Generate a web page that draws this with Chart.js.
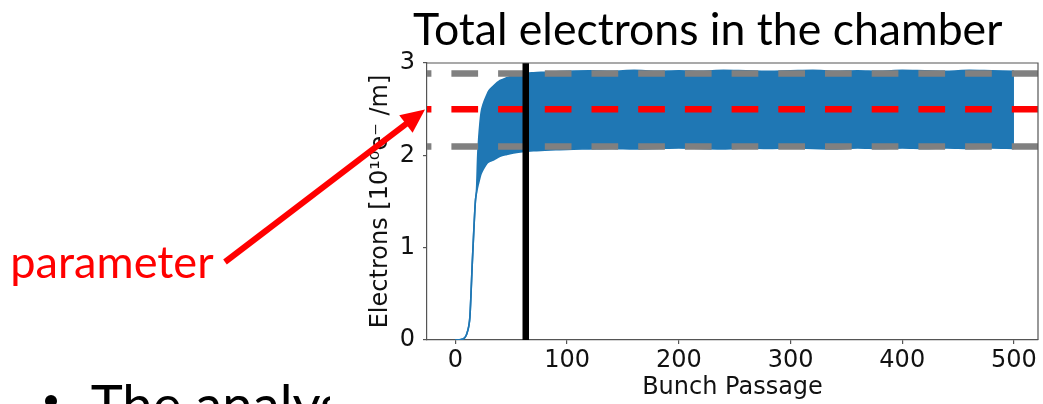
<!DOCTYPE html>
<html>
<head>
<meta charset="utf-8">
<script src="https://cdn.jsdelivr.net/npm/chart.js@4.4.1/dist/chart.umd.min.js"></script>
<style>
  html, body { margin: 0; padding: 0; background: #fff; overflow: hidden; }
  #wrap { position: relative; width: 1043px; height: 404px; }
</style>
</head>
<body>
<div id="wrap"><canvas id="c" width="1043" height="404"></canvas></div>
<script>
// Bunch passage at which the envelope of the oscillating electron count is sampled
const passage = [0, 5, 8, 10, 12, 13, 14, 15, 16.4, 17.9,
  19, 20, 21, 22, 23, 25, 28, 30, 34, 40,
  46, 52, 60, 70, 80, 90, 100, 120, 140, 160,
  180, 200, 220, 240, 260, 280, 300, 320, 340, 360,
  380, 400, 420, 440, 460, 480, 500];
// Upper and lower envelope of the electron count [10^10 e-/m]
const upperEnvelope = [0, 0.005, 0.02, 0.06, 0.15, 0.25, 0.5, 0.8, 1.16, 1.5,
  1.64, 2.0, 2.2, 2.35, 2.46, 2.56, 2.65, 2.70, 2.75, 2.81,
  2.84, 2.865, 2.885, 2.895, 2.90, 2.905, 2.91, 2.915, 2.91, 2.92,
  2.91, 2.915, 2.91, 2.92, 2.915, 2.91, 2.915, 2.92, 2.91, 2.915,
  2.91, 2.92, 2.915, 2.91, 2.92, 2.915, 2.91];
const lowerEnvelope = [0, 0.005, 0.02, 0.06, 0.15, 0.25, 0.5, 0.8, 1.16, 1.5,
  1.6, 1.66, 1.71, 1.76, 1.80, 1.85, 1.91, 1.93, 1.95, 1.99,
  2.01, 2.025, 2.04, 2.05, 2.055, 2.06, 2.065, 2.07, 2.075, 2.07,
  2.075, 2.08, 2.075, 2.07, 2.08, 2.075, 2.08, 2.075, 2.07, 2.08,
  2.075, 2.08, 2.075, 2.08, 2.075, 2.08, 2.075];
// Horizontal reference levels and the vertical marker
const bandLimits = [2.095, 2.885];
const targetLevel = [2.5];
const markerPassage = [63];
// Axis ticks and limits
const xTicks = [0, 100, 200, 300, 400, 500];
const yTicks = [0, 1, 2, 3];
const xRange = [-25.4, 521.5];
const yRange = [0, 3];

const BLUE = '#1f77b4';
const AXIS = '#555555';
const TICK_FONT = { family: 'DejaVu Sans', size: 24 };

const toPoints = (xs, ys) => xs.map((x, i) => ({ x, y: ys[i] }));
const across = v => xRange.map(x => ({ x, y: v }));

const dashed = (color, level, order) => ({
  data: across(level),
  borderColor: color,
  borderWidth: 6.5,
  borderDash: [26.7, 20],
  borderDashOffset: 22.3,
  pointRadius: 0,
  fill: false,
  order
});

// Fit a string's ink width to a given number of pixels
function fitSize(ctx, text, family, weight, inkWidth) {
  ctx.font = `${weight} 100px ${family}`;
  const m = ctx.measureText(text);
  return 100 * inkWidth / (m.actualBoundingBoxLeft + m.actualBoundingBoxRight);
}

// Draws text so that its ink starts at `left` and its capital tops sit at `capTop`
function placeText(ctx, text, family, weight, size, left, capTop, color) {
  ctx.font = `${weight} ${size}px ${family}`;
  ctx.fillStyle = color;
  ctx.textBaseline = 'alphabetic';
  ctx.textAlign = 'left';
  const m = ctx.measureText(text);
  const asc = ctx.measureText('T').actualBoundingBoxAscent;
  ctx.fillText(text, left + m.actualBoundingBoxLeft, capTop + asc);
}

const framePlugin = {
  id: 'frame',
  afterDatasetsDraw(chart) {
    const { ctx, chartArea: a } = chart;
    ctx.save();
    ctx.strokeStyle = AXIS;
    ctx.lineWidth = 1.2;
    ctx.beginPath();
    ctx.moveTo(a.left, a.top);
    ctx.lineTo(a.right, a.top);
    ctx.lineTo(a.right, a.bottom);
    ctx.stroke();
    ctx.restore();
  }
};

const slidePlugin = {
  id: 'slide',
  afterDraw(chart) {
    const ctx = chart.ctx;
    ctx.save();

    // heading above the axes
    const hs = fitSize(ctx, 'Total electrons in the chamber', 'Lato', 400, 589);
    placeText(ctx, 'Total electrons in the chamber', 'Lato', 400, hs, 413, 13, '#000');

    // bullet line underneath, partly hidden behind the figure
    ctx.save();
    ctx.beginPath();
    ctx.rect(0, 0, 330, 404);
    ctx.clip();
    const bs = fitSize(ctx, 'The analy', 'Lato', 400, 229);
    placeText(ctx, 'The analysis', 'Lato', 400, bs, 90.7, 385, '#000');
    ctx.beginPath();
    ctx.fillStyle = '#000';
    ctx.arc(51, 401, 6, 0, Math.PI * 2);
    ctx.fill();
    ctx.restore();

    // red label with its arrow
    const ps = fitSize(ctx, 'parameter', 'Lato', 400, 200);
    ctx.font = `400 ${ps}px Lato`;
    ctx.fillStyle = '#ff0000';
    ctx.textBaseline = 'alphabetic';
    const pm = ctx.measureText('parameter');
    ctx.fillText('parameter', 13.3 + pm.actualBoundingBoxLeft, 277.5);

    const tail = { x: 225, y: 262 };
    const tip = { x: 425, y: 109.5 };
    const dx = tip.x - tail.x, dy = tip.y - tail.y;
    const len = Math.hypot(dx, dy);
    const ux = dx / len, uy = dy / len;
    const headLen = 24, headHalf = 11;
    const bx = tip.x - ux * headLen, by = tip.y - uy * headLen;
    ctx.strokeStyle = '#ff0000';
    ctx.lineWidth = 6;
    ctx.lineCap = 'butt';
    ctx.beginPath();
    ctx.moveTo(tail.x, tail.y);
    ctx.lineTo(bx + ux * 2, by + uy * 2);
    ctx.stroke();
    ctx.fillStyle = '#ff0000';
    ctx.beginPath();
    ctx.moveTo(tip.x, tip.y);
    ctx.lineTo(bx - uy * headHalf, by + ux * headHalf);
    ctx.lineTo(bx + uy * headHalf, by - ux * headHalf);
    ctx.closePath();
    ctx.fill();

    ctx.restore();
  }
};

function build() {
  new Chart(document.getElementById('c'), {
    type: 'line',
    data: {
      datasets: [
        {
          label: 'lower',
          data: toPoints(passage, lowerEnvelope),
          borderColor: BLUE, backgroundColor: BLUE, borderWidth: 1.6,
          pointRadius: 0, fill: false, order: 4,
          cubicInterpolationMode: 'monotone'
        },
        {
          label: 'upper',
          data: toPoints(passage, upperEnvelope),
          borderColor: BLUE, backgroundColor: BLUE, borderWidth: 1.6,
          pointRadius: 0, fill: '-1', order: 3,
          cubicInterpolationMode: 'monotone'
        },
        Object.assign({ label: 'band top' }, dashed('#808080', bandLimits[1], 2)),
        Object.assign({ label: 'band bottom' }, dashed('#808080', bandLimits[0], 2)),
        Object.assign({ label: 'target' }, dashed('#ff0000', targetLevel[0], 1)),
        {
          label: 'marker',
          data: yRange.map(y => ({ x: markerPassage[0], y })),
          borderColor: '#000', borderWidth: 6.5,
          pointRadius: 0, fill: false, order: 0
        }
      ]
    },
    options: {
      responsive: false,
      devicePixelRatio: 1,
      animation: false,
      events: [],
      layout: { padding: { top: 63, right: 5, left: 0, bottom: 0 } },
      plugins: {
        legend: { display: false },
        tooltip: { enabled: false },
        title: { display: false }
      },
      scales: {
        x: {
          type: 'linear',
          min: xRange[0], max: xRange[1],
          afterBuildTicks: s => { s.ticks = xTicks.map(v => ({ value: v })); },
          afterFit: s => { s.height = 64; },
          ticks: { font: TICK_FONT, color: '#111', padding: 2, maxRotation: 0, autoSkip: false },
          grid: { drawOnChartArea: false, drawTicks: true, tickLength: 4, color: AXIS, lineWidth: 1.2 },
          border: { display: true, color: AXIS, width: 1.2 },
          title: {
            display: true, text: 'Bunch Passage', font: TICK_FONT, color: '#111',
            padding: { top: 0, bottom: 2 }
          }
        },
        y: {
          type: 'linear',
          min: yRange[0], max: yRange[1],
          afterBuildTicks: s => { s.ticks = yTicks.map(v => ({ value: v })); },
          afterFit: s => { s.width = 427; },
          ticks: { font: TICK_FONT, color: '#111', padding: 8 },
          grid: { drawOnChartArea: false, drawTicks: true, tickLength: 4, color: AXIS, lineWidth: 1.2 },
          border: { display: true, color: AXIS, width: 1.2 },
          title: {
            display: true, text: 'Electrons [10\u00B9\u2070e\u207B /m]', font: TICK_FONT, color: '#111',
            padding: { top: 366.6, bottom: 0 }
          }
        }
      }
    },
    plugins: [framePlugin, slidePlugin]
  });
}

Promise.all([
  document.fonts.load('24px "DejaVu Sans"'),
  document.fonts.load('40px Lato')
]).then(build, build);
</script>
</body>
</html>
